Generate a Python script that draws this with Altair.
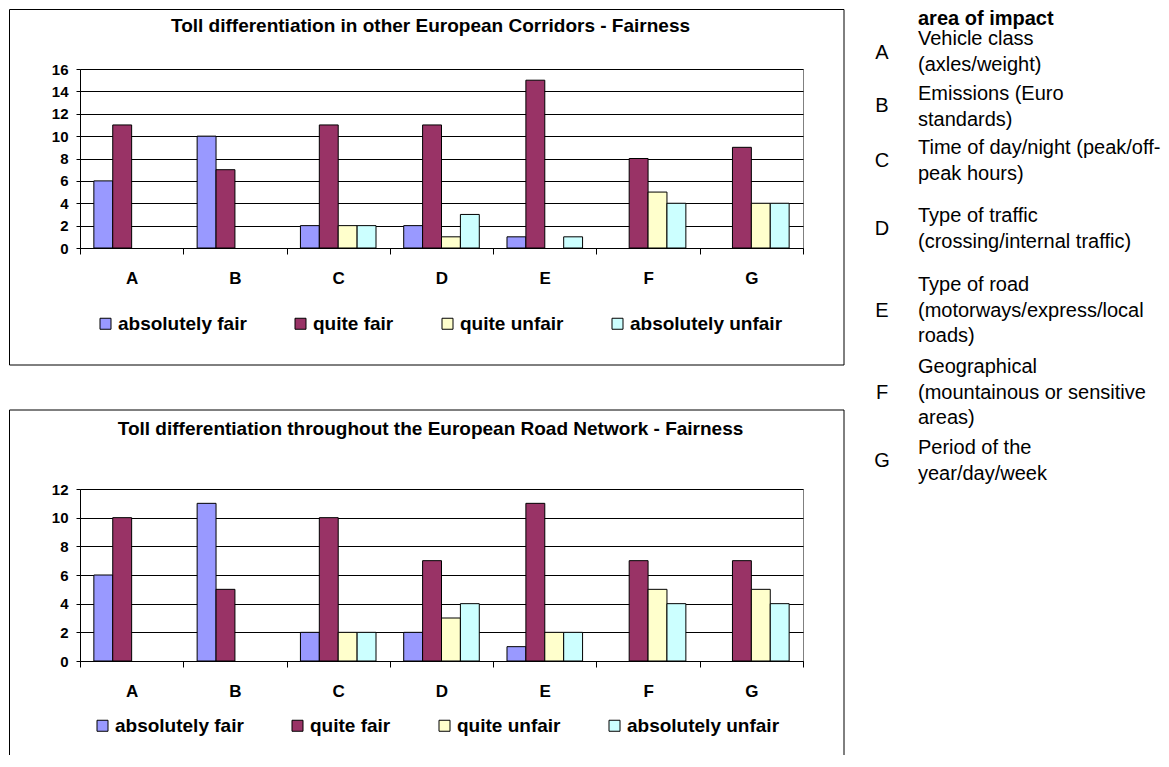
import altair as alt
import pandas as pd

FONT = "Liberation Sans"

# ---------------- data ----------------
CATEGORIES = ["A", "B", "C", "D", "E", "F", "G"]
SERIES = ["absolutely fair", "quite fair", "quite unfair", "absolutely unfair"]
COLORS = ["#9999FF", "#993366", "#FFFFCC", "#CCFFFF"]

CORR_ABS_FAIR = [6, 10, 2, 2, 1, 0, 0]
CORR_QUITE_FAIR = [11, 7, 11, 11, 15, 8, 9]
CORR_QUITE_UNFAIR = [0, 0, 2, 1, 0, 5, 4]
CORR_ABS_UNFAIR = [0, 0, 2, 3, 1, 4, 4]

NET_ABS_FAIR = [6, 11, 2, 2, 1, 0, 0]
NET_QUITE_FAIR = [10, 5, 10, 7, 11, 7, 7]
NET_QUITE_UNFAIR = [0, 0, 2, 3, 2, 5, 5]
NET_ABS_UNFAIR = [0, 0, 2, 4, 2, 4, 4]

TITLE_TOP = "Toll differentiation in other European Corridors - Fairness"
TITLE_BOTTOM = "Toll differentiation throughout the European Road Network - Fairness"

KEY_HEADER = "area of impact"
KEY_TEXT = [
    "Vehicle class\n(axles/weight)",
    "Emissions (Euro\nstandards)",
    "Time of day/night (peak/off-\npeak hours)",
    "Type of traffic\n(crossing/internal traffic)",
    "Type of road\n(motorways/express/local\nroads)",
    "Geographical\n(mountainous or sensitive\nareas)",
    "Period of the\nyear/day/week",
]

# ---------------- layout constants (pixels, relative to top plot origin) ----------------
PLOT_W = 723
KEY_HEADER_Y = -50
KEY_LETTER_Y = [-16, 37, 92, 160, 242, 324, 392]
KEY_TEXT_Y = [-30, 25, 79, 147, 216, 298, 379]
KEY_LETTER_X = 802
KEY_TEXT_X = 838


def long_df(series_values):
    rows = []
    for s, vals in zip(SERIES, series_values):
        for c, v in zip(CATEGORIES, vals):
            rows.append({"cat": c, "series": s, "value": v})
    return pd.DataFrame(rows)


def panel(df, title, ymax, title_y, legend_x, legend_y, box_y, box_y2):
    box = alt.Chart(alt.Data(values=[{"k": 1}])).mark_rect(
        fill="white", fillOpacity=0, stroke="black", strokeWidth=1
    ).encode(
        x=alt.value(-70.5), x2=alt.value(764), y=alt.value(box_y), y2=alt.value(box_y2)
    )
    bars = alt.Chart(df).transform_filter("datum.value > 0").mark_bar(
        stroke="black", strokeWidth=1
    ).encode(
        x=alt.X(
            "cat:N", sort=CATEGORIES, title=None,
            scale=alt.Scale(domain=CATEGORIES, paddingInner=0, paddingOuter=0),
            axis=alt.Axis(labelAngle=0, tickBand="extent", labelFontSize=17,
                          labelPadding=16, tickSize=6, grid=False),
        ),
        xOffset=alt.XOffset(
            "series:N", sort=SERIES,
            scale=alt.Scale(domain=SERIES, paddingOuter=0.733, paddingInner=0),
        ),
        y=alt.Y(
            "value:Q", title=None,
            scale=alt.Scale(domain=[0, ymax], nice=False),
            axis=alt.Axis(values=list(range(0, ymax + 1, 2)), tickSize=4,
                          labelPadding=8, labelFontSize=15, grid=True),
        ),
        color=alt.Color(
            "series:N", sort=SERIES,
            scale=alt.Scale(domain=SERIES, range=COLORS),
            legend=alt.Legend(
                title=None, orient="none", legendX=legend_x, legendY=legend_y,
                direction="horizontal", symbolType="square", symbolSize=121,
                symbolStrokeColor="black", symbolStrokeWidth=1, symbolOpacity=1,
                labelFont=FONT, labelFontSize=19, labelFontWeight="bold",
                labelColor="black", labelOffset=3, columnPadding=44,
                padding=0, labelLimit=400,
            ),
        ),
    )
    ttl = alt.Chart(pd.DataFrame({"t": [title]})).mark_text(
        font=FONT, fontSize=19, fontWeight="bold", align="center",
        baseline="alphabetic", color="black",
    ).encode(x=alt.value(350.5), y=alt.value(title_y), text="t:N")
    return [box, bars, ttl]


top_layers = panel(long_df([CORR_ABS_FAIR, CORR_QUITE_FAIR, CORR_QUITE_UNFAIR, CORR_ABS_UNFAIR]),
                   TITLE_TOP, 16, -37, 16, 245, -59.5, 296)
bottom_layers = panel(long_df([NET_ABS_FAIR, NET_QUITE_FAIR, NET_QUITE_UNFAIR, NET_ABS_UNFAIR]),
                      TITLE_BOTTOM, 12, -54, 13, 227, -79, 285)

# key (area of impact) attached to the top panel
key_layers = [
    alt.Chart(pd.DataFrame({"t": [KEY_HEADER]})).mark_text(
        font=FONT, fontSize=20, fontWeight="bold", align="left", baseline="middle", color="black"
    ).encode(x=alt.value(KEY_TEXT_X), y=alt.value(KEY_HEADER_Y), text="t:N")
]
for letter, desc, ly, ty in zip(CATEGORIES, KEY_TEXT, KEY_LETTER_Y, KEY_TEXT_Y):
    key_layers.append(
        alt.Chart(pd.DataFrame({"t": [letter]})).mark_text(
            font=FONT, fontSize=20, align="center", baseline="middle", color="black"
        ).encode(x=alt.value(KEY_LETTER_X), y=alt.value(ly), text="t:N")
    )
    key_layers.append(
        alt.Chart(pd.DataFrame({"t": [desc]})).mark_text(
            font=FONT, fontSize=20, align="left", baseline="middle", color="black",
            lineBreak="\n", lineHeight=25.5
        ).encode(x=alt.value(KEY_TEXT_X), y=alt.value(ty), text="t:N")
    )

top = alt.layer(*top_layers, *key_layers).properties(width=PLOT_W, height=179)
bottom = alt.layer(*bottom_layers).properties(width=PLOT_W, height=172)

chart = alt.vconcat(top, bottom, spacing=241, bounds="flush").resolve_legend(
    color="independent"
).configure_view(stroke="#808080", strokeWidth=1).configure_axis(
    labelFont=FONT, labelFontWeight="bold", labelColor="black",
    domainColor="black", tickColor="black", gridColor="black", gridOpacity=1,
).properties(
    padding={"left": 0, "top": 0, "right": 0, "bottom": -20}
)

chart.save("out.html", embed_options={"renderer": "svg", "actions": False})
